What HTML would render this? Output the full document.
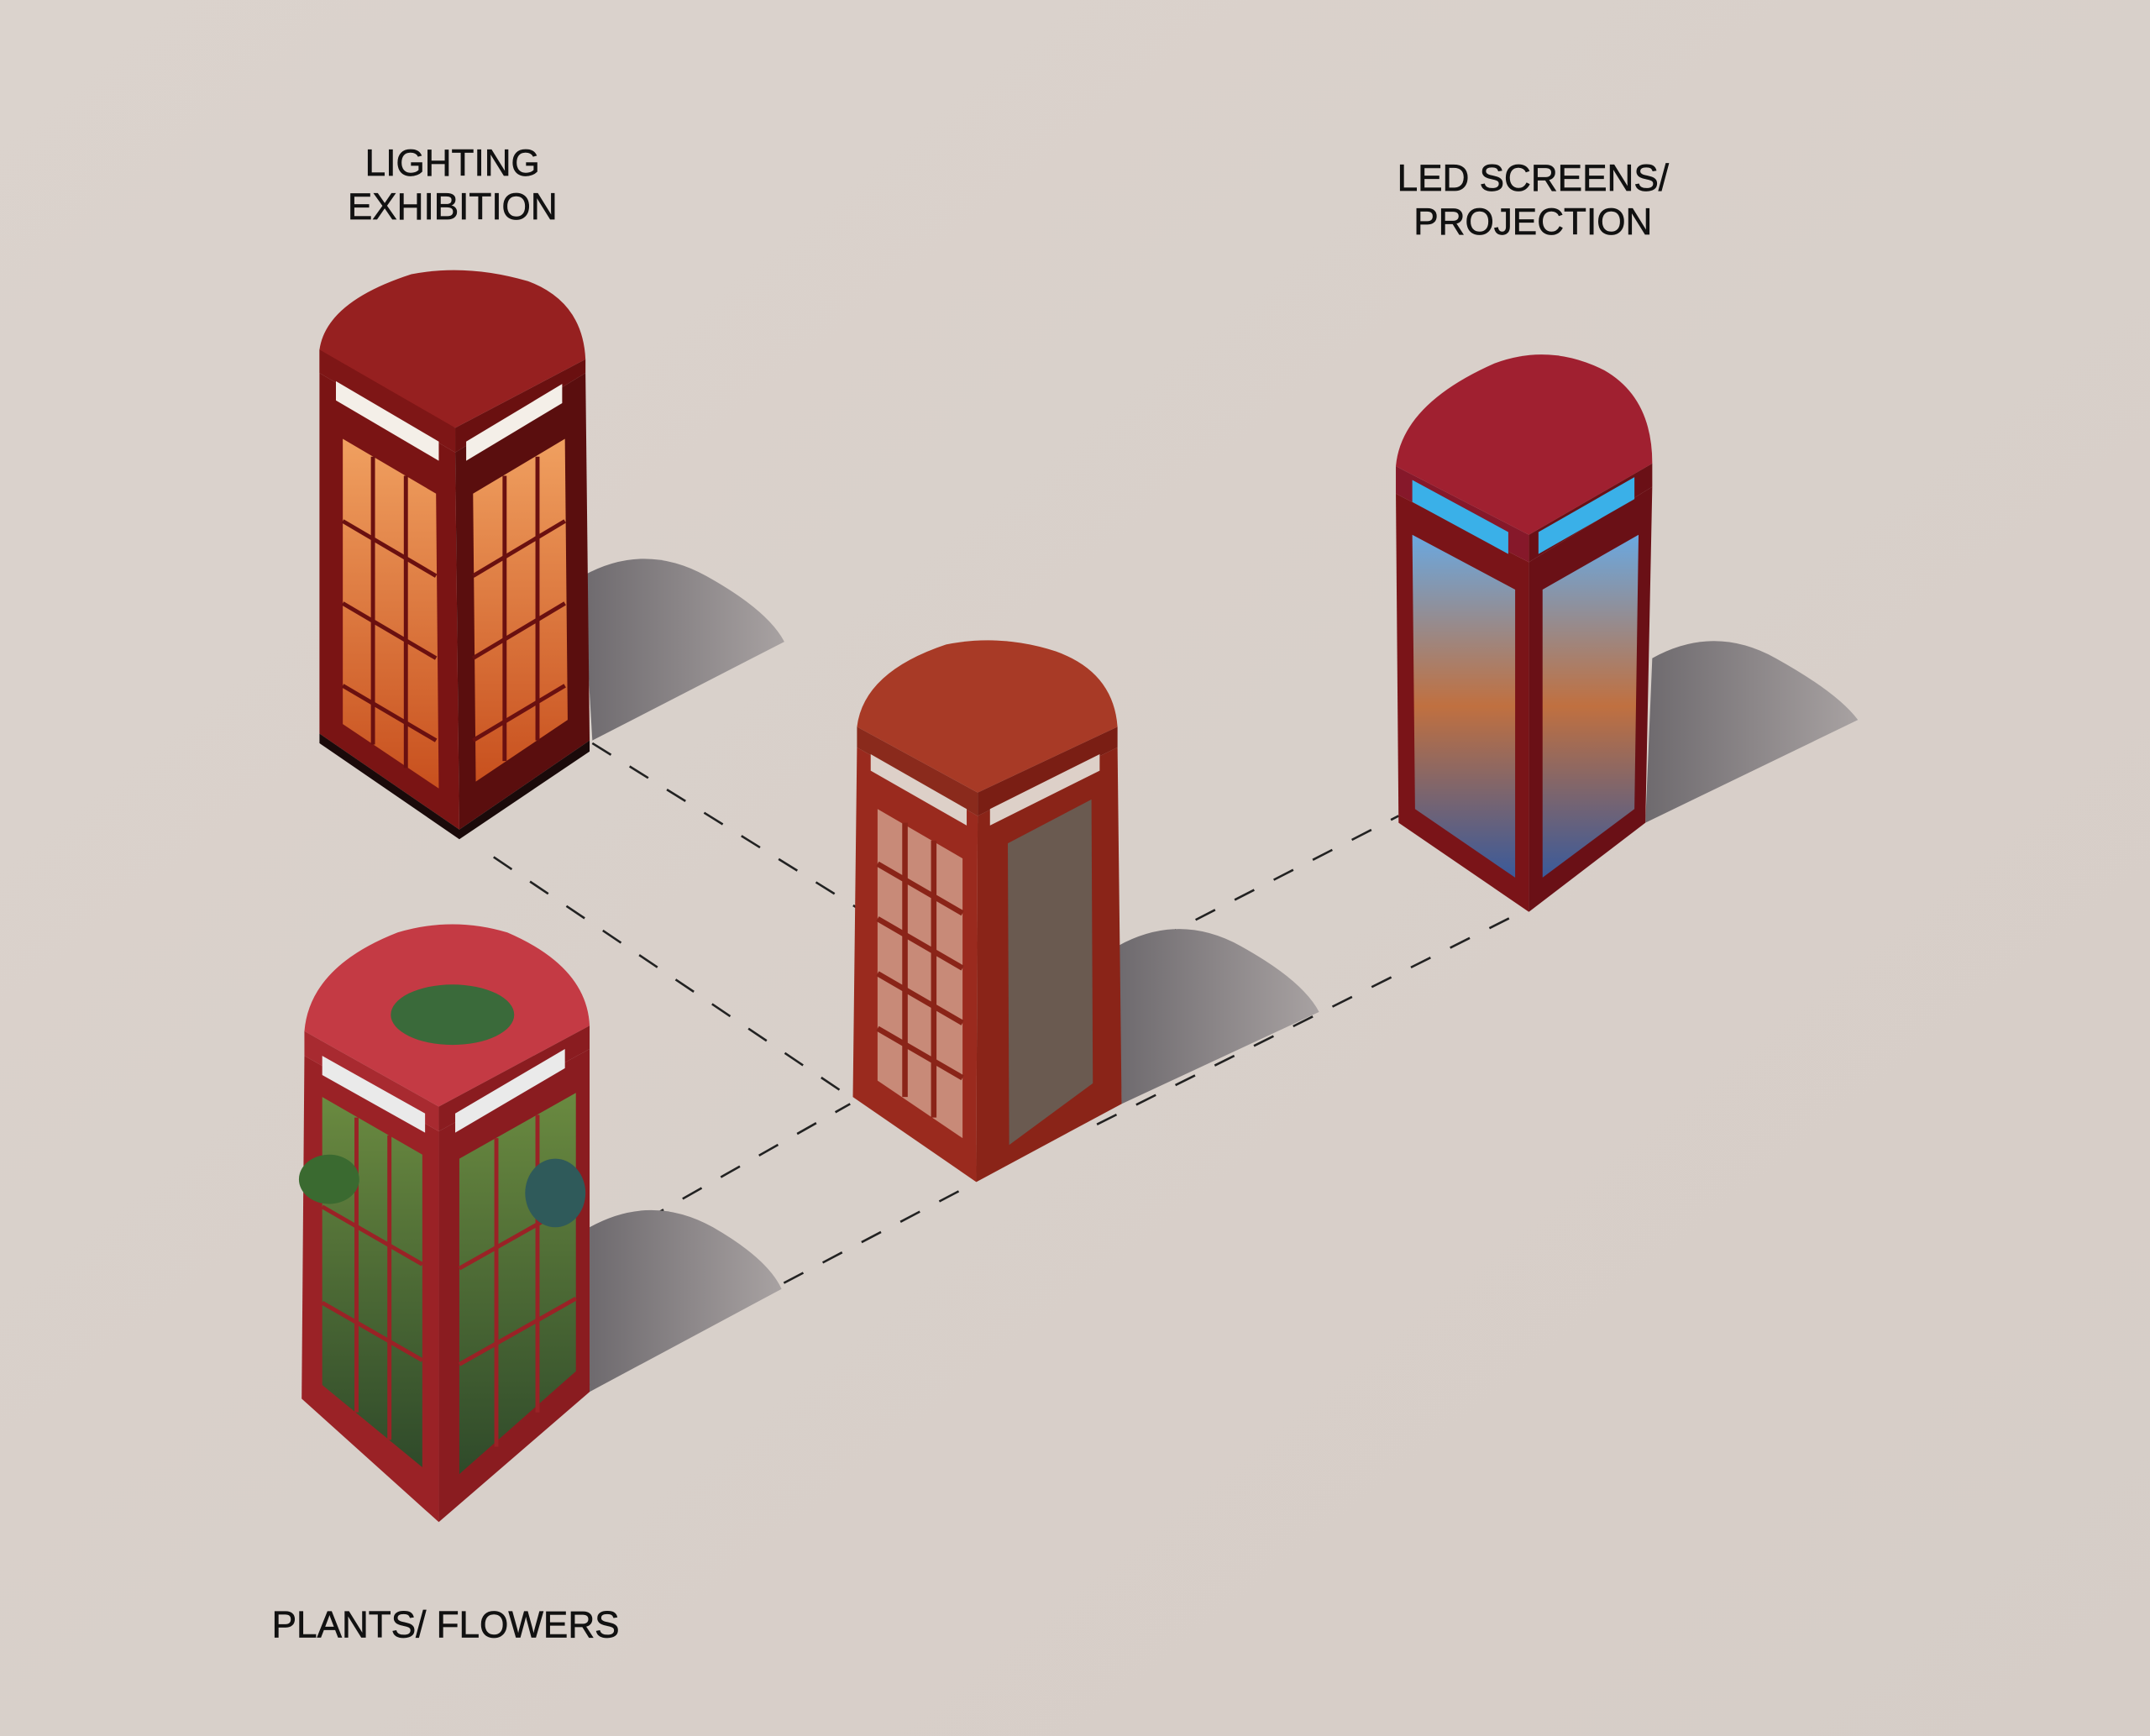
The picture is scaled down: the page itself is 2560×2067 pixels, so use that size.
<!DOCTYPE html>
<html><head><meta charset="utf-8"><style>
html,body{margin:0;padding:0;background:#d8d0ca;}
svg{display:block;}
text{font-family:"Liberation Sans",sans-serif;font-size:27px;fill:#111;text-anchor:middle;stroke:#111;stroke-width:0.4;}
</style></head><body>
<svg width="2560" height="2067" viewBox="0 0 1568 1266" preserveAspectRatio="none" xmlns="http://www.w3.org/2000/svg">
<defs>
<linearGradient id="bg" x1="0" y1="0" x2="1" y2="1"><stop offset="0" stop-color="#dbd3cd"/><stop offset="1" stop-color="#d6cdc7"/></linearGradient>
<linearGradient id="glow" x1="0" y1="0" x2="0" y2="1"><stop offset="0" stop-color="#f0a060"/><stop offset="1" stop-color="#c8501e"/></linearGradient>
<linearGradient id="led" x1="0" y1="0" x2="0" y2="1"><stop offset="0" stop-color="#6aa8e0"/><stop offset="0.5" stop-color="#c07040"/><stop offset="1" stop-color="#3a5a9a"/></linearGradient>
<linearGradient id="green" x1="0" y1="0" x2="0" y2="1"><stop offset="0" stop-color="#6a8a40"/><stop offset="1" stop-color="#2f4a2a"/></linearGradient>
<linearGradient id="shad" x1="0" y1="0" x2="1" y2="0"><stop offset="0" stop-color="#6e6a6e"/><stop offset="1" stop-color="#a8a2a2"/></linearGradient>
</defs>
<rect width="1568" height="1266" fill="url(#bg)"/>

<g stroke="#222" stroke-width="1.6" stroke-dasharray="16,16" fill="none">
<line x1="360" y1="625" x2="620" y2="800"/>
<line x1="432" y1="542" x2="625" y2="662"/>
<line x1="470" y1="890" x2="620" y2="805"/>
<line x1="430" y1="1010" x2="712" y2="862"/>
<line x1="815" y1="700" x2="1020" y2="595"/>
<line x1="800" y1="820" x2="1110" y2="665"/>
</g>

<path d="M425 420 Q470 395 515 420 Q560 445 572 468 L432 540 Z" fill="url(#shad)"/>
<path d="M815 690 Q860 665 905 690 Q950 715 962 738 L818 805 Z" fill="url(#shad)"/>
<path d="M1205 480 Q1250 455 1295 480 Q1340 505 1355 525 L1200 600 Z" fill="url(#shad)"/>
<path d="M430 895 Q475 870 520 895 Q560 918 570 940 L430 1015 Z" fill="url(#shad)"/>

<!-- Booth 1 -->
<g>
<polygon points="233,272 332,330 335,605 233,535" fill="#7a1414"/>
<polygon points="332,330 427,272 430,540 335,605" fill="#5a0e0e"/>
<polygon points="250,320 318,360 320,575 250,528" fill="url(#glow)"/>
<polygon points="345,360 412,320 414,525 347,570" fill="url(#glow)"/>
<g stroke="#6a1010" stroke-width="3">
<line x1="272" y1="333" x2="272" y2="543"/><line x1="296" y1="347" x2="296" y2="560"/>
<line x1="368" y1="347" x2="368" y2="555"/><line x1="392" y1="333" x2="392" y2="540"/>
<line x1="250" y1="380" x2="318" y2="420"/><line x1="250" y1="440" x2="318" y2="480"/><line x1="250" y1="500" x2="318" y2="540"/>
<line x1="345" y1="420" x2="412" y2="380"/><line x1="345" y1="480" x2="412" y2="440"/><line x1="345" y1="540" x2="412" y2="500"/>
</g>
<path d="M233 272 L332 312 L427 262 Q425 220 385 205 Q340 192 300 200 Q238 220 233 255 Z" fill="#962020"/>
<path d="M332 312 L427 262 L427 272 L332 330 Z" fill="#6a1010"/>
<polygon points="233,255 332,312 332,330 233,272" fill="#7e1616"/>
<polygon points="245,278 320,322 320,336 245,292" fill="#f4efe8"/>
<polygon points="340,322 410,280 410,294 340,336" fill="#f4efe8"/>
<polygon points="233,535 335,605 430,540 430,548 335,612 233,542" fill="#1a0a0a"/>
</g>

<!-- Booth center -->
<g>
<polygon points="625,545 713,595 712,862 622,800" fill="#9a2a1e"/>
<polygon points="713,595 815,545 818,805 712,862" fill="#8a2418"/>
<polygon points="640,590 702,626 702,830 640,788" fill="#c88a78"/>
<polygon points="735,615 796,583 797,790 736,835" fill="#6a5a50"/>
<g stroke="#8a2418" stroke-width="4">
<line x1="660" y1="600" x2="660" y2="800"/><line x1="681" y1="613" x2="681" y2="815"/>
<line x1="640" y1="630" x2="702" y2="666"/><line x1="640" y1="670" x2="702" y2="706"/><line x1="640" y1="710" x2="702" y2="746"/><line x1="640" y1="750" x2="702" y2="786"/>
</g>
<path d="M625 530 L713 578 L815 530 Q812 490 770 475 Q730 462 690 470 Q630 490 625 530 Z" fill="#a83a26"/>
<polygon points="625,530 713,578 713,595 625,545" fill="#8a2a1c"/>
<polygon points="713,578 815,530 815,545 713,595" fill="#7a1e14"/>
<polygon points="635,550 705,590 705,602 635,562" fill="#ddd0c8"/>
<polygon points="722,590 802,550 802,562 722,602" fill="#ddd0c8"/>
</g>

<!-- Booth LED -->
<g>
<polygon points="1018,360 1115,410 1115,665 1020,600" fill="#7a1418"/>
<polygon points="1115,410 1205,355 1200,600 1115,665" fill="#6a1016"/>
<polygon points="1030,390 1105,430 1105,640 1032,590" fill="url(#led)"/>
<polygon points="1125,430 1195,390 1192,590 1125,640" fill="url(#led)"/>
<path d="M1018 340 L1115 390 L1205 338 Q1205 290 1170 270 Q1130 250 1090 265 Q1022 295 1018 340 Z" fill="#a02030"/>
<polygon points="1018,340 1115,390 1115,410 1018,360" fill="#86182a"/>
<polygon points="1115,390 1205,338 1205,355 1115,410" fill="#6a1016"/>
<polygon points="1030,350 1100,388 1100,404 1030,366" fill="#3ab0e8"/>
<polygon points="1122,388 1192,348 1192,364 1122,404" fill="#3ab0e8"/>
</g>

<!-- Booth plants -->
<g>
<polygon points="222,770 320,825 320,1110 220,1020" fill="#9a2226"/>
<polygon points="320,825 430,765 430,1015 320,1110" fill="#8a1c20"/>
<polygon points="235,800 308,842 308,1070 235,1010" fill="url(#green)"/>
<polygon points="335,845 420,797 420,1000 335,1075" fill="url(#green)"/>
<g stroke="#9a2226" stroke-width="3">
<line x1="260" y1="815" x2="260" y2="1030"/><line x1="284" y1="828" x2="284" y2="1050"/>
<line x1="362" y1="830" x2="362" y2="1055"/><line x1="392" y1="813" x2="392" y2="1030"/>
<line x1="235" y1="880" x2="308" y2="922"/><line x1="235" y1="950" x2="308" y2="992"/>
<line x1="335" y1="925" x2="420" y2="877"/><line x1="335" y1="995" x2="420" y2="947"/>
</g>
<path d="M222 752 L320 807 L430 748 Q428 705 370 680 Q330 668 290 680 Q226 705 222 752 Z" fill="#c43a44"/>
<polygon points="222,752 320,807 320,825 222,770" fill="#a82a30"/>
<polygon points="320,807 430,748 430,765 320,825" fill="#8a1c20"/>
<polygon points="235,770 310,812 310,826 235,784" fill="#eaeaea"/>
<polygon points="332,812 412,765 412,779 332,826" fill="#eaeaea"/>
<ellipse cx="330" cy="740" rx="45" ry="22" fill="#3a6a3a"/>
<ellipse cx="240" cy="860" rx="22" ry="18" fill="#3a6a30"/>
<ellipse cx="405" cy="870" rx="22" ry="25" fill="#2f5a5a"/>
</g>

<text x="330" y="128">LIGHTING</text>
<text x="330" y="160">EXHIBITION</text>
<text x="1118" y="139">LED SCREENS/</text>
<text x="1118" y="171">PROJECTION</text>
<text x="325" y="1194">PLANTS/ FLOWERS</text>
</svg>
</body></html>
